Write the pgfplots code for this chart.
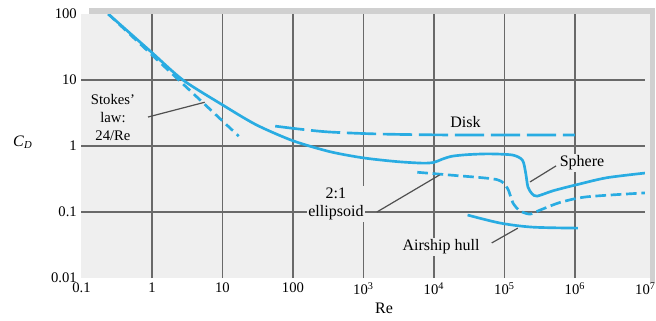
\documentclass[border=0pt]{standalone}
\usepackage{fontspec}
\setmainfont{Liberation Serif}
\usepackage{pgfplots}
\pgfplotsset{compat=1.18}
\definecolor{cd}{RGB}{41,172,226}
\definecolor{bg}{RGB}{239,239,239}
\definecolor{gridc}{RGB}{105,105,105}
\definecolor{band}{RGB}{208,208,208}
\definecolor{ann}{RGB}{80,80,80}
\tikzset{
  lab/.style={font=\fontsize{12}{14}\selectfont, fill=bg, inner sep=1pt},
  annl/.style={ann, line width=0.9pt},
}
\begin{document}
\begin{tikzpicture}
\begin{axis}[
  xmode=log, ymode=log,
  scale only axis, width=423pt, height=198pt,
  xmin=0.1, xmax=1e7, ymin=0.01, ymax=100,
  axis line style={draw=none},
  axis background/.style={fill=bg},
  xtick={1,10,100,1000,10000,100000,1000000},
  xticklabels={1,10,100,10\textsuperscript{3},10\textsuperscript{4},10\textsuperscript{5},10\textsuperscript{6}},
  extra x ticks={0.1,1e7},
  extra x tick labels={0.1,10\textsuperscript{7}},
  extra x tick style={grid=none, major tick length=0pt},
  ytick={0.1,1,10}, yticklabels={0.1,1,10},
  extra y ticks={0.01,100}, extra y tick labels={0.01,100},
  extra y tick style={grid=none, major tick length=0pt},
  major tick length=0pt, minor tick length=0pt,
  grid=major, major grid style={gridc, line width=1.2pt},
  tick label style={font=\fontsize{11}{13}\selectfont},
]
% Stokes' law 24/Re
\addplot[cd, line width=2pt, dash pattern=on 7pt off 4pt] coordinates {(0.24,100) (17,1.41)};
% Sphere
\addplot[cd, line width=2pt, smooth, tension=0.45] coordinates {
 (0.24,100) (0.5,50) (1,26) (2.75,10) (10,4.2) (30,2.1) (100,1.2) (335,0.82)
 (1000,0.66) (3000,0.58) (7000,0.55) (10000,0.565) (13000,0.63) (18000,0.70)
 (30000,0.74) (60000,0.76)
 (1.3e5,0.73) (1.8e5,0.61) (2e5,0.39) (2.15e5,0.24) (2.45e5,0.19) (2.9e5,0.174)
 (4.9e5,0.21) (1.07e6,0.26) (2.8e6,0.33) (1e7,0.39)};
% Disk
\addplot[cd, line width=2pt, smooth, dash pattern=on 22pt off 5pt] coordinates {
 (56,2.0) (126,1.8) (330,1.63) (1700,1.52) (17000,1.47) (1e6,1.47)};
% 2:1 ellipsoid
\addplot[cd, line width=2pt, smooth, tension=0.45, dash pattern=on 8pt off 3.5pt] coordinates {
 (5800,0.40) (18600,0.36) (7.8e4,0.31) (1.1e5,0.23) (1.32e5,0.137) (1.66e5,0.104)
 (2.3e5,0.093) (3.2e5,0.107) (6.2e5,0.14) (1.48e6,0.17) (1e7,0.195)};
% Airship hull
\addplot[cd, line width=2pt, smooth] coordinates {
 (3e4,0.09) (8.7e4,0.068) (2.5e5,0.059) (1.1e6,0.057)};

\node[lab, font=\fontsize{11}{13.5}\selectfont, align=center] at (axis cs:0.28,2.66) {Stokes'\\law:\\24/Re};
\draw[annl] (axis cs:0.88,2.75) -- (axis cs:5.6,4.6);
\node[lab] at (axis cs:2.8e4,2.31) {Disk};
\node[lab] at (axis cs:1.26e6,0.552) {Sphere};
\draw[annl] (axis cs:2.3e5,0.285) -- (axis cs:5.4e5,0.5);
\node[lab, align=center] at (axis cs:407,0.132) {2:1\\ellipsoid};
\draw[annl] (axis cs:1550,0.1) -- (axis cs:1.2e4,0.364);
\node[lab] at (axis cs:1.26e4,0.0295) {Airship hull};
\draw[annl] (axis cs:6.6e4,0.034) -- (axis cs:1.55e5,0.057);

\coordinate (sw) at (rel axis cs:0,0);
\coordinate (ne) at (rel axis cs:1,1);
\coordinate (nw) at (rel axis cs:0,1);
\coordinate (se) at (rel axis cs:1,0);
\coordinate (lm) at (rel axis cs:0,0.5);
\coordinate (bm) at (rel axis cs:0.5,0);
\end{axis}
\fill[bg] (se) rectangle ([shift={(3.5pt,0pt)}]ne);
\fill[band] ([shift={(6pt,0pt)}]nw) rectangle ([shift={(7.5pt,4.5pt)}]ne);
\fill[band] ([shift={(3.5pt,-3pt)}]se) rectangle ([shift={(7.5pt,4.5pt)}]ne);
\node[font=\fontsize{12}{14}\selectfont] at ([shift={(-44pt,3pt)}]lm) {\textit{C}\textsubscript{\textit{D}}};
\node[font=\fontsize{12}{14}\selectfont] at ([shift={(15.4pt,-22.5pt)}]bm) {Re};
\pgfresetboundingbox
\path ([shift={(-61.1pt,-31.5pt)}]sw) rectangle ([shift={(7.9pt,10.5pt)}]ne);
\end{tikzpicture}
\end{document}
